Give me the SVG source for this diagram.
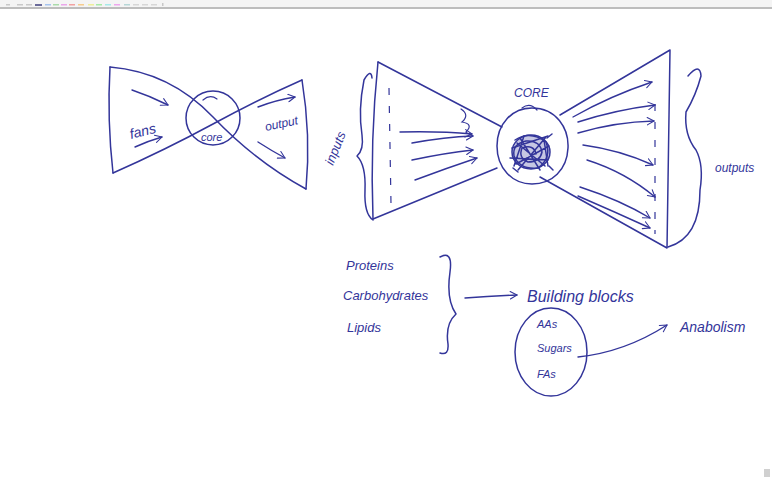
<svg xmlns="http://www.w3.org/2000/svg" width="772" height="479" viewBox="0 0 772 479">
  <defs>
    <marker id="head" viewBox="0 0 12 12" refX="10" refY="6" markerWidth="9" markerHeight="9" markerUnits="userSpaceOnUse" orient="auto">
      <path d="M1,1 L10,6 L1,11" fill="none" stroke="#33359a" stroke-width="1.4" stroke-linecap="round" stroke-linejoin="round"/>
    </marker>
    <style>
      .ink { fill: none; stroke: #33359a; stroke-width: 1.5; stroke-linecap: round; stroke-linejoin: round; }
      .thin { fill: none; stroke: #33359a; stroke-width: 1.2; stroke-linecap: round; }
      .dash { fill: none; stroke: #33359a; stroke-width: 1.2; stroke-dasharray: 7 11; }
      .arr { fill: none; stroke: #33359a; stroke-width: 1.4; stroke-linecap: round; marker-end: url(#head); }
      .hand { font-family: "Liberation Sans", "DejaVu Sans", sans-serif; font-style: italic; fill: #33359a; }
    </style>
  </defs>

  <rect width="772" height="479" fill="#ffffff"/>

  <!-- toolbar strip along the top edge -->
  <g id="toolbar">
    <rect x="0" y="0" width="772" height="7" fill="#f4f4f4"/>
    <rect x="0" y="7" width="772" height="2" fill="#bdbdbd"/>
    <rect x="6" y="4" width="4" height="1.5" fill="#c8c8c8"/>
    <rect x="17" y="4" width="6" height="1.5" fill="#c8c8c8"/>
    <rect x="26" y="4" width="6" height="1.5" fill="#c8c8c8"/>
    <rect x="35" y="4" width="7" height="2" fill="#6b6b9a"/>
    <rect x="45" y="4" width="6" height="1.5" fill="#a6c4ee"/>
    <rect x="53" y="4" width="6" height="1.5" fill="#a9dba9"/>
    <rect x="61" y="4" width="6" height="1.5" fill="#eaa6ea"/>
    <rect x="69" y="4" width="6" height="1.5" fill="#f2a2a2"/>
    <rect x="78" y="4" width="6" height="1.5" fill="#f6cc8e"/>
    <rect x="88" y="4" width="6" height="1.5" fill="#eeee9a"/>
    <rect x="96" y="4" width="6" height="1.5" fill="#a6eaa6"/>
    <rect x="105" y="4" width="6" height="1.5" fill="#a6eaea"/>
    <rect x="114" y="4" width="6" height="1.5" fill="#eea6ee"/>
    <rect x="124" y="4" width="6" height="1.5" fill="#b6d6d6"/>
    <rect x="133" y="4" width="6" height="1.5" fill="#d6d6d6"/>
    <rect x="142" y="4" width="6" height="1.5" fill="#d6d6d6"/>
    <rect x="151" y="4" width="6" height="1.5" fill="#d6d6d6"/>
    <rect x="162" y="3" width="1.5" height="3" fill="#c8c8c8"/>
  </g>

  <!-- small bow-tie: fans / core / output -->
  <g id="small-bowtie">
    <path class="ink" d="M110,67 Q107,120 113,173"/>
    <path class="ink" d="M110,67 Q170,72 213,117 T306,189"/>
    <path class="ink" d="M113,173 Q165,150 213,124 T302,80"/>
    <path class="ink" d="M302,80 Q311,135 306,189"/>
    <ellipse class="ink" cx="213" cy="118" rx="27" ry="27"/>
    <path class="thin" d="M203,100 Q210,94 217,99"/>
    <text class="hand" x="131" y="139" font-size="14" transform="rotate(-14 131 139)">fans</text>
    <text class="hand" x="201" y="141" font-size="11">core</text>
    <text class="hand" x="266" y="131" font-size="12" transform="rotate(-12 266 131)">output</text>
  </g>

  <!-- large bow-tie: inputs funnel into the CORE, outputs fan out -->
  <g id="input-funnel">
    <path class="ink" d="M378,62 L502,127"/>
    <path class="ink" d="M373,219 L497,168"/>
    <path class="ink" d="M378,62 Q370,140 373,219"/>
    <path class="dash" d="M389,88 L391,204"/>
    <path class="ink" d="M372,78 Q371,68 364,80 Q358,110 362,135 Q364,150 357,156 Q366,165 365,190 Q364,214 373,220"/>
    <text class="hand" x="333" y="166" font-size="13" transform="rotate(-68 333 166)">inputs</text>
  </g>

  <g id="core">
    <path class="ink" d="M532,108 C556,108 569,128 568,148 C567,170 552,184 532,184 C512,184 497,168 497,146 C497,124 512,108 532,108 Z"/>
    <path class="thin" d="M522,108 Q530,102 537,110"/>
    <ellipse cx="531" cy="152" rx="19" ry="17" fill="#33359a" fill-opacity="0.28"/>
    <ellipse class="ink" cx="531" cy="152" rx="19" ry="17" stroke-width="2"/>
    <path class="ink" stroke-width="2" d="M515,140 Q530,130 546,142 Q552,158 538,168 Q520,170 514,156 Q512,144 526,141 Q540,140 542,152 Q540,162 528,162 Q518,158 522,148 Q534,144 536,154"/>
    <path class="ink" stroke-width="1.8" d="M512,148 L548,136 M516,164 L549,146 M520,138 L540,170 M510,158 L548,160 M524,136 L514,166 M544,140 L548,166 M517,143 L545,166 M518,170 L546,137"/>
    <path class="ink" stroke-width="1.6" d="M547,138 L552,134 M549,166 L553,170 M513,168 L518,172"/>
    <text class="hand" x="514" y="97" font-size="12">CORE</text>
  </g>

  <g id="output-fan">
    <path class="ink" d="M560,115 L670,50 L667,248 L540,177"/>
    <path class="dash" d="M655,104 L655,234"/>
    <path class="ink" d="M688,76 Q700,62 701,76 Q696,95 686,112 Q684,135 696,150 Q704,165 700,190 Q700,238 668,247"/>
    <text class="hand" x="715" y="172" font-size="12">outputs</text>
  </g>

  <!-- nutrient classes and their building blocks -->
  <g id="nutrients">
    <text class="hand" x="346" y="270" font-size="13">Proteins</text>
    <text class="hand" x="343" y="300" font-size="13">Carbohydrates</text>
    <text class="hand" x="347" y="332" font-size="13">Lipids</text>
    <path class="ink" d="M440,257 Q453,250 450,272 Q446,300 456,314 Q445,324 448,344 Q449,356 440,353"/>
  </g>

  <g id="building-blocks">
    <text class="hand" x="527" y="302" font-size="16">Building blocks</text>
    <ellipse class="ink" cx="551" cy="352" rx="36" ry="44"/>
    <text class="hand" x="537" y="328" font-size="11">AAs</text>
    <text class="hand" x="537" y="352" font-size="11">Sugars</text>
    <text class="hand" x="537" y="378" font-size="11">FAs</text>
  </g>

  <g id="anabolism">
    <text class="hand" x="680" y="332" font-size="14">Anabolism</text>
  </g>

  <g id="connectors">
    <!-- small bow-tie flow arrows -->
    <path class="arr" d="M132,90 Q150,96 168,105"/>
    <path class="arr" d="M135,147 Q148,141 162,137"/>
    <path class="arr" d="M258,107 Q276,100 295,97"/>
    <path class="arr" d="M258,142 Q272,151 285,158"/>
    <!-- inputs converging on the core -->
    <path class="arr" d="M400,132 Q440,131 472,134"/>
    <path class="arr" d="M412,143 Q445,137 473,136"/>
    <path class="arr" d="M412,160 Q445,153 473,150"/>
    <path class="arr" d="M415,180 Q447,168 477,158"/>
    <path class="thin" d="M461,109 Q470,115 462,122 Q474,124 466,132"/>
    <!-- outputs spreading from the core -->
    <path class="arr" d="M573,117 Q610,96 652,82"/>
    <path class="arr" d="M578,122 Q615,110 655,105"/>
    <path class="arr" d="M578,133 Q615,122 654,121"/>
    <path class="arr" d="M583,145 Q620,150 653,165"/>
    <path class="arr" d="M587,160 Q625,172 655,197"/>
    <path class="arr" d="M580,187 Q620,200 650,218"/>
    <path class="arr" d="M578,196 Q615,212 650,228"/>
    <!-- nutrients to building blocks, building blocks to anabolism -->
    <path class="arr" d="M465,298 Q490,296 517,295"/>
    <path class="arr" d="M578,357 Q625,352 667,325"/>
  </g>

  <!-- page marker, bottom right -->
  <rect x="764" y="469" width="6" height="8" fill="#d0d0d0"/>
</svg>
